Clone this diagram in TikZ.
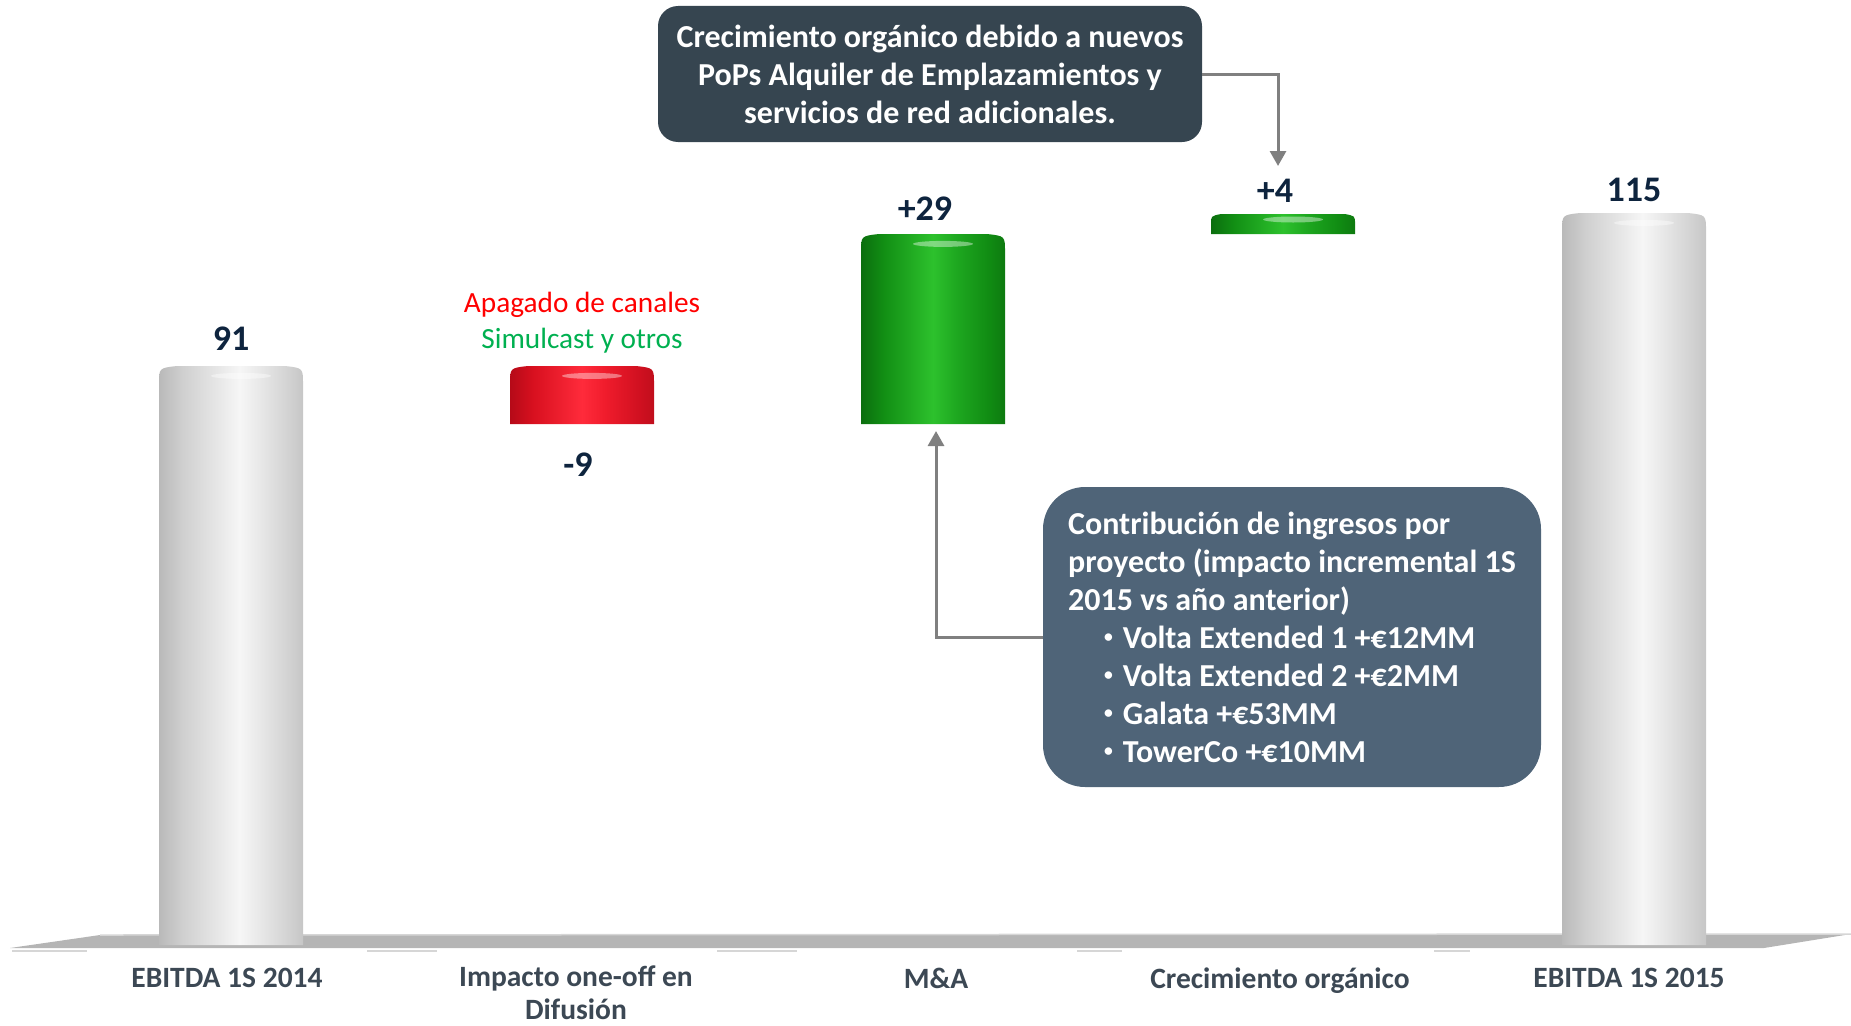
\documentclass[tikz,border=0pt]{standalone}
\usepackage{fontspec}
\usepackage{graphicx}
\setmainfont{Carlito}
\usetikzlibrary{arrows.meta}
\definecolor{navy}{RGB}{14,36,62}
\definecolor{axisgray}{RGB}{60,72,84}
\definecolor{boxdark}{RGB}{54,69,80}
\definecolor{boxblue}{RGB}{79,100,120}
\definecolor{arrowgray}{RGB}{128,128,128}
\definecolor{offred}{RGB}{255,0,0}
\definecolor{offgreen}{RGB}{0,176,80}
\definecolor{floorgray}{RGB}{181,181,181}
\definecolor{floorline}{RGB}{214,214,214}
\definecolor{ga}{RGB}{185,185,185}
\definecolor{gb}{RGB}{207,207,207}
\definecolor{gc}{RGB}{230,230,230}
\definecolor{gd}{RGB}{246,246,246}
\definecolor{ge}{RGB}{232,232,232}
\definecolor{gf}{RGB}{210,210,210}
\definecolor{gg}{RGB}{198,198,198}
\definecolor{ra}{RGB}{181,10,24}
\definecolor{rb}{RGB}{216,16,31}
\definecolor{rc}{RGB}{255,43,59}
\definecolor{rd}{RGB}{240,28,44}
\definecolor{re}{RGB}{208,16,32}
\definecolor{rf}{RGB}{192,14,28}
\definecolor{gra}{RGB}{11,110,14}
\definecolor{grb}{RGB}{18,143,20}
\definecolor{grc}{RGB}{45,193,45}
\definecolor{grd}{RGB}{30,168,32}
\definecolor{gre}{RGB}{16,138,18}
\definecolor{grf}{RGB}{14,122,16}
\pgfdeclarehorizontalshading{cylgray}{100bp}{color(0bp)=(ga); color(25bp)=(ga); color(33bp)=(gb); color(45bp)=(gc); color(53bp)=(gd); color(60bp)=(ge); color(70bp)=(gf); color(75bp)=(gg); color(100bp)=(gg)}
\pgfdeclarehorizontalshading{cylred}{100bp}{color(0bp)=(ra); color(25bp)=(ra); color(33bp)=(rb); color(50bp)=(rc); color(58bp)=(rd); color(70bp)=(re); color(75bp)=(rf); color(100bp)=(rf)}
\pgfdeclarehorizontalshading{cylgreen}{100bp}{color(0bp)=(gra); color(25bp)=(gra); color(33bp)=(grb); color(50bp)=(grc); color(58bp)=(grd); color(70bp)=(gre); color(75bp)=(grf); color(100bp)=(grf)}
\newcommand{\itembul}{\raisebox{.17em}{\scalebox{.55}{•}}}

\begin{document}
\begin{tikzpicture}[x=1pt,y=-1pt,
  val/.style={font=\fontsize{36}{40}\selectfont\bfseries,text=navy,inner sep=0},
  cat/.style={font=\fontsize{29.5}{33}\selectfont\bfseries,text=axisgray,align=center,inner sep=0,anchor=north},
  callout/.style={rounded corners=20,text=white,font=\fontsize{32}{38}\selectfont\bfseries,inner sep=0},
  link/.style={arrowgray,line width=3pt,-{Triangle[length=15pt,width=16pt]}}]
\useasboundingbox (0,0) rectangle (1851,1025);
\fill[floorgray] (100,935) -- (1851,934) -- (1764,948) -- (10,948) -- cycle;
\draw[floorline,line width=1.5pt] (100,935) -- (1851,934);
\foreach \a/\b in {12/87,367/437,717/797,1077/1122,1434/1470}
  \draw[floorline,line width=2pt] (\a,950.5) -- (\b,950.5);
\foreach \xl/\yt/\yb/\r/\sh in {159/366/945/18/cylgray,510/366/424/18/cylred,861/234/424/18/cylgreen,1211/214/234/10/cylgreen,1562/213/945/18/cylgray}{
  \shade[shading=\sh] (\xl,\yb) -- (\xl,\yt+\r) .. controls (\xl,\yt+2) .. (\xl+\r,\yt) -- (\xl+144-\r,\yt) .. controls (\xl+144,\yt+2) .. (\xl+144,\yt+\r) -- (\xl+144,\yb) -- cycle;
  \fill[white,opacity=.4] (\xl+82,\yt+\r*.55) ellipse (30 and 3);
}
\node[val] (v1) at (231,339) {91};
\node[val] (v2) at (578,465) {-9};
\node[val] (v3) at (925,209) {+29};
\node[val] (v4) at (1275,191) {+4};
\node[val] (v5) at (1634,190) {115};
\node[font=\fontsize{29.3}{36}\selectfont,align=center,inner sep=0] (note) at (582,323) {\textcolor{offred}{Apagado de canales}\\\textcolor{offgreen}{Simulcast y otros}};
\node[cat] (c1) at (227,968) {EBITDA 1S 2014};
\node[cat] (c2) at (576,966) {Impacto one-off en\\Difusión};
\node[cat] (c3) at (936,968) {M\&A};
\node[cat] (c4) at (1280,968) {Crecimiento orgánico};
\node[cat] (c5) at (1629,968) {EBITDA 1S 2015};
\node[callout,fill=boxdark,minimum width=544,minimum height=136,align=center] (orgbox) at (930,74) {Crecimiento orgánico debido a nuevos\\PoPs Alquiler de Emplazamientos y\\servicios de red adicionales.};
\node[callout,fill=boxblue,rounded corners=42,minimum width=498,minimum height=300,align=left] (projbox) at (1292,637) {Contribución de ingresos por\\proyecto (impacto incremental 1S\hspace*{8pt}\\2015 vs año anterior)\\\hspace*{36pt}\itembul\hspace{10pt}Volta Extended 1 +€12MM\\\hspace*{36pt}\itembul\hspace{10pt}Volta Extended 2 +€2MM\\\hspace*{36pt}\itembul\hspace{10pt}Galata +€53MM\\\hspace*{36pt}\itembul\hspace{10pt}TowerCo +€10MM};
\coordinate (matip) at (936,431);
\coordinate (orgtip) at (1278,166);
\draw[link] (projbox.west) -| (matip);
\draw[link] (orgbox.east) -| (orgtip);
\end{tikzpicture}
\end{document}
